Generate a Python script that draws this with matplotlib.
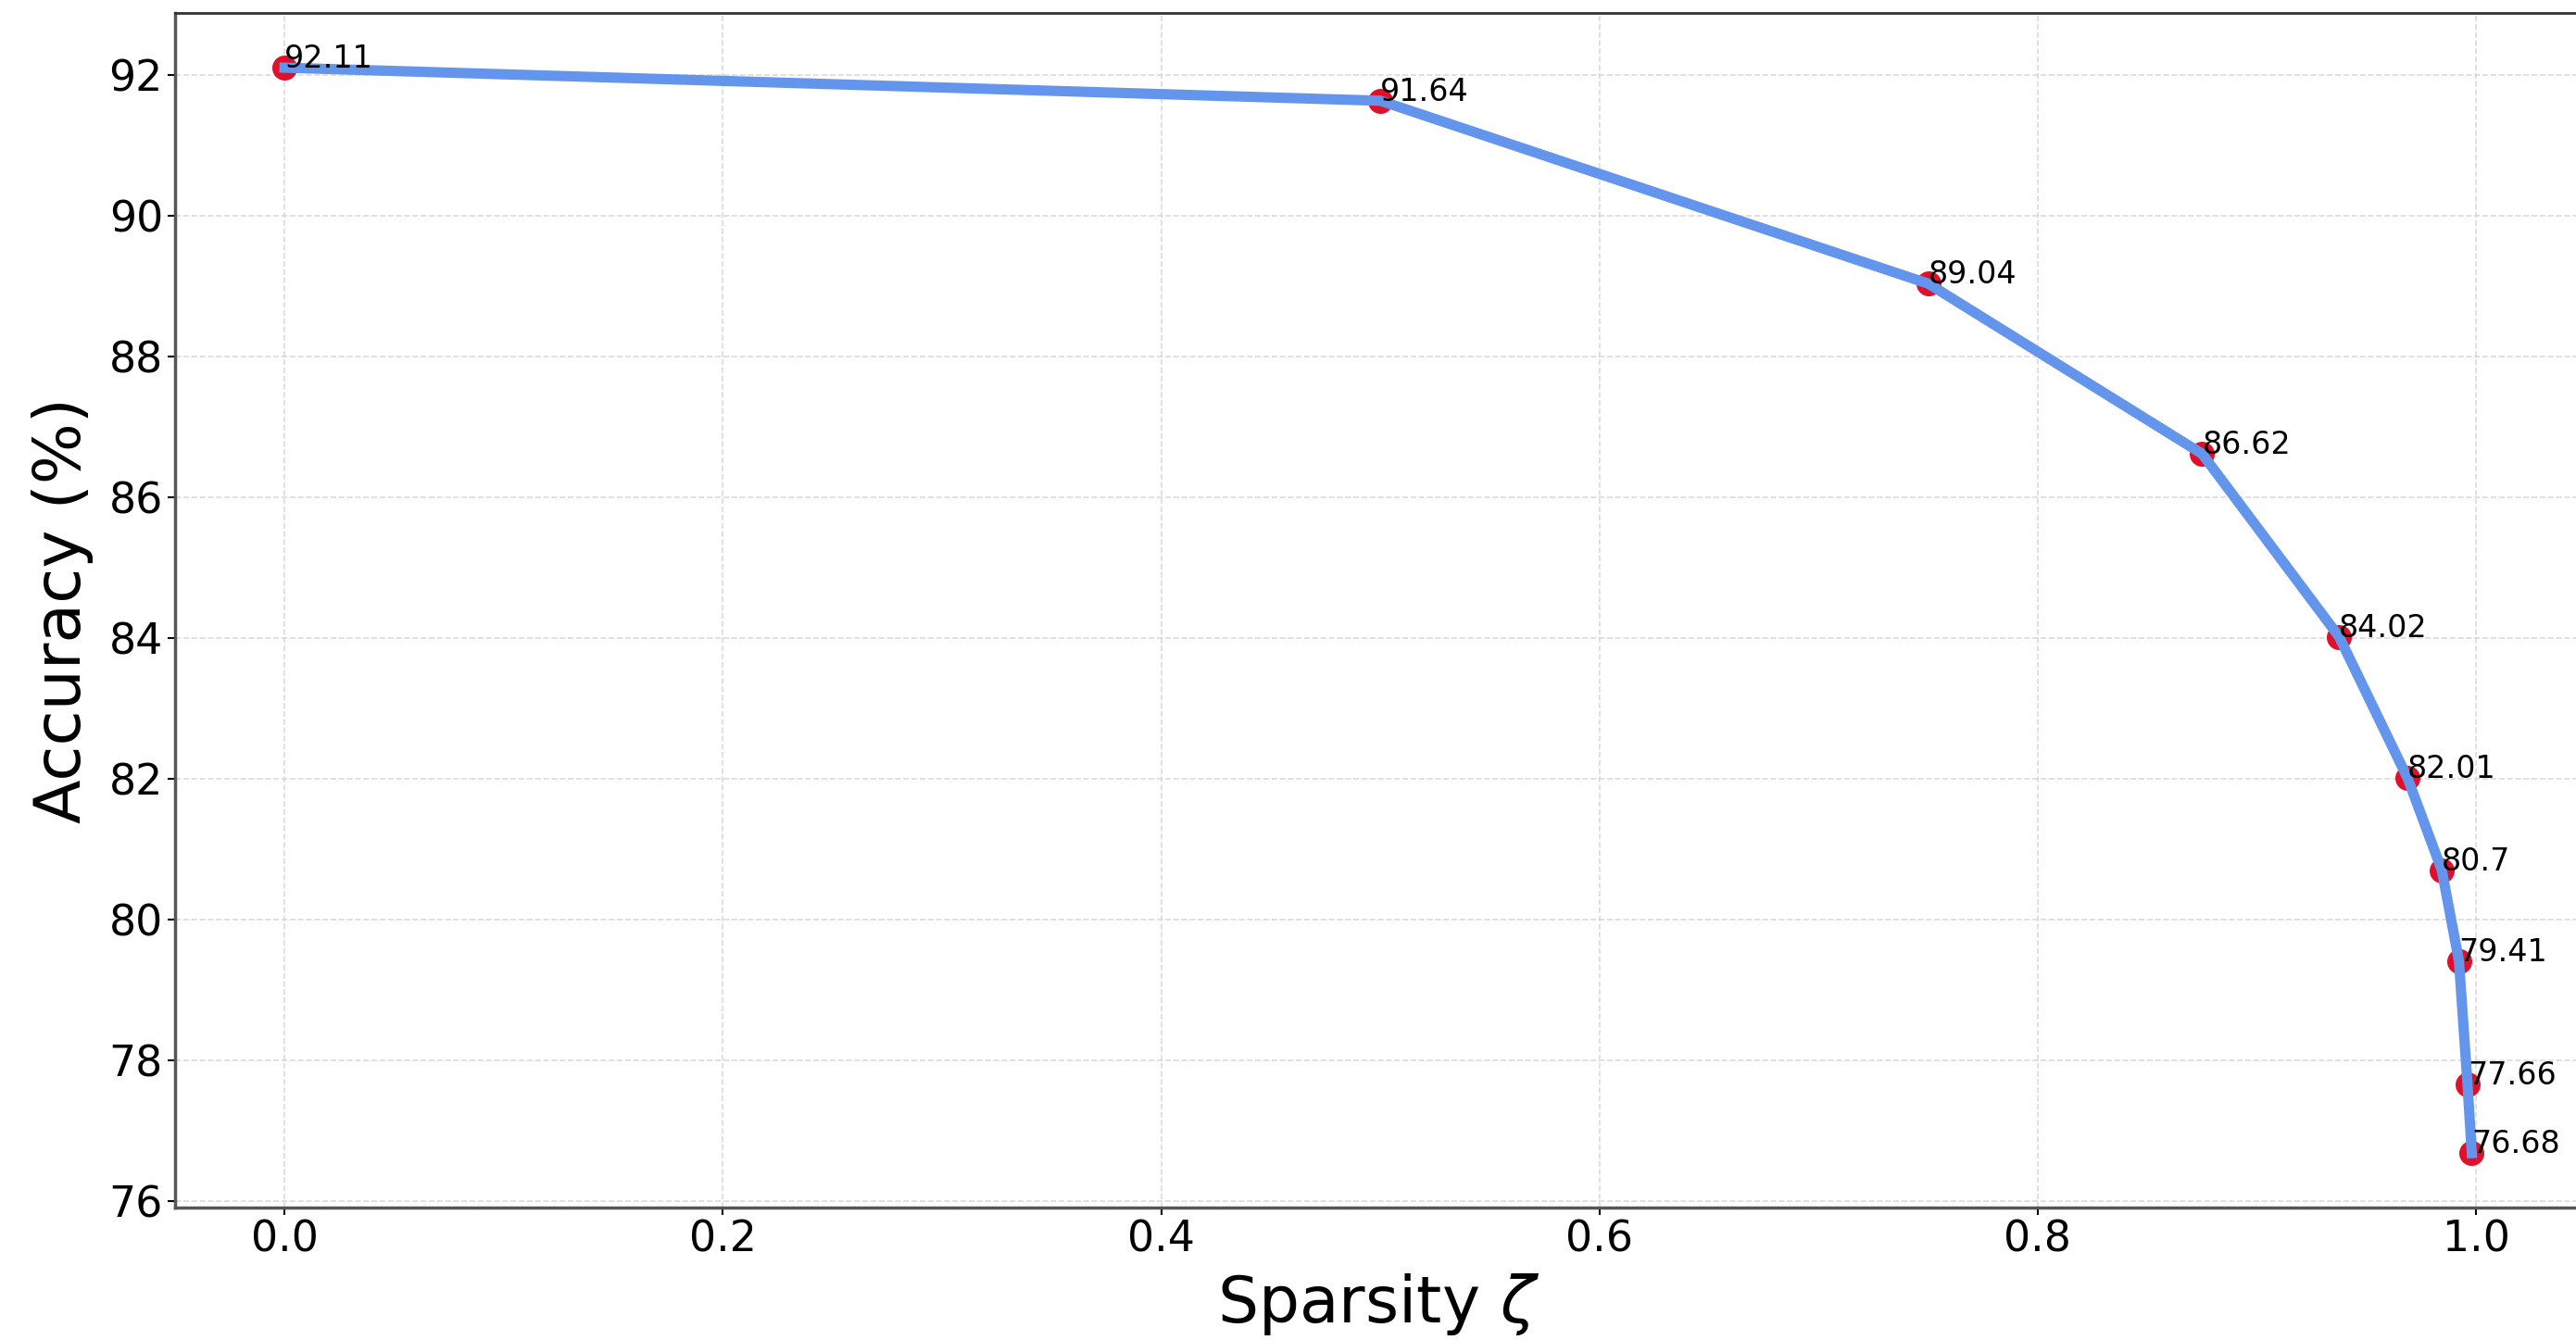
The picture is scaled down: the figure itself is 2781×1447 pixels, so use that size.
import matplotlib
matplotlib.use("Agg")
import matplotlib.pyplot as plt

sparsity = [0.0, 0.5, 0.75, 0.875, 0.9375, 0.96875, 0.984375, 0.9921875, 0.99609375, 0.998046875]
accuracy = [92.11, 91.64, 89.04, 86.62, 84.02, 82.01, 80.7, 79.41, 77.66, 76.68]

fig = plt.figure(figsize=(27.81, 14.47), dpi=100)
ax = fig.add_axes([0.068, 0.099, 0.934, 0.891])

ax.scatter(sparsity, accuracy, s=340, color="#e0102a", zorder=2)
ax.plot(sparsity, accuracy, color="cornflowerblue", linewidth=8, zorder=3)

for x, y in zip(sparsity, accuracy):
    ax.text(x, y, str(y), fontsize=24, color="black", zorder=4)

ax.grid(True, linestyle="--", color="#cccccc", alpha=0.7, linewidth=1.2)
ax.set_axisbelow(True)

ax.set_xlabel("Sparsity $\\zeta$", fontsize=50, labelpad=8)
ax.set_ylabel("Accuracy (%)", fontsize=50, labelpad=12)
ax.tick_params(axis="both", labelsize=33, length=6, width=1.5)

for side in ["left", "bottom"]:
    ax.spines[side].set_color("#555555")
    ax.spines[side].set_linewidth(2.5)
ax.spines["top"].set_color("#333333")
ax.spines["top"].set_linewidth(2)

fig.savefig("out.png", dpi=100)
